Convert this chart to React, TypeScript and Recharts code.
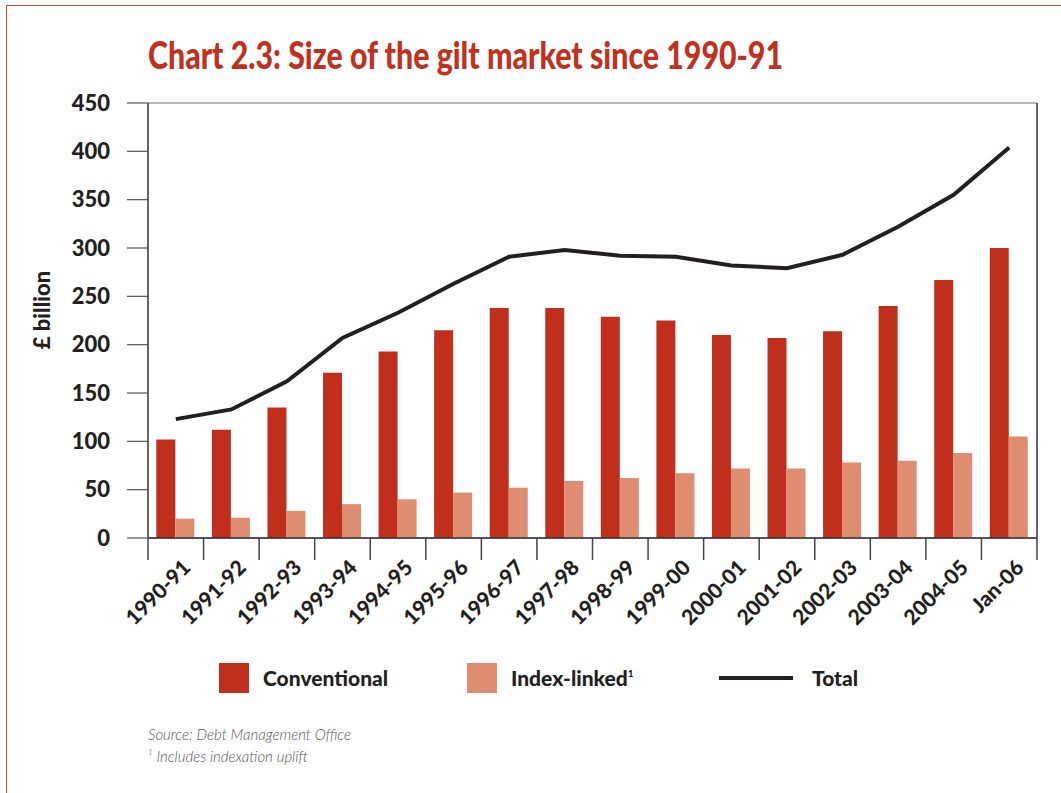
import React from 'react';
import {
  Bar,
  CartesianGrid,
  ComposedChart,
  Line,
  XAxis,
  YAxis,
} from 'recharts';

const categories = [
  '1990-91', '1991-92', '1992-93', '1993-94', '1994-95', '1995-96', '1996-97', '1997-98',
  '1998-99', '1999-00', '2000-01', '2001-02', '2002-03', '2003-04', '2004-05', 'Jan-06',
];
const conventional = [102, 112, 135, 171, 193, 215, 238, 238, 229, 225, 210, 207, 214, 240, 267, 300];
const indexLinked = [20, 21, 28, 35, 40, 47, 52, 59, 62, 67, 72, 72, 78, 80, 88, 105];
const total = [123, 133, 162, 207, 233, 263, 291, 298, 292, 291, 282, 279, 293, 322, 355, 404];
const yTicks = [0, 50, 100, 150, 200, 250, 300, 350, 400, 450];

const data = categories.map((label, i) => ({
  label,
  conventional: conventional[i],
  indexLinked: indexLinked[i],
  total: total[i],
}));

const RED = '#bf2f1c';
const SALMON = '#de8d70';
const INK = '#231f20';
const FONT = 'Lato, "Open Sans", sans-serif';

function XTick(props: any) {
  const { x, y, payload, index } = props;
  const half = payload?.offset ?? 0;
  const last = index === categories.length - 1;
  return (
    <g>
      <line x1={x - half} x2={x - half} y1={y} y2={y + 22} stroke="#444" strokeWidth={1.5} />
      {last && <line x1={x + half} x2={x + half} y1={y} y2={y + 22} stroke="#444" strokeWidth={1.5} />}
      <text
        transform={`translate(${x + 16},${y + 31}) rotate(-45)`}
        textAnchor="end"
        fontFamily={FONT}
        fontWeight={900}
        fontSize={21}
        fill={INK}
      >
        {payload.value}
      </text>
    </g>
  );
}

function ChartLegend() {
  const text: React.CSSProperties = {
    position: 'absolute',
    top: 664,
    fontFamily: FONT,
    fontWeight: 900,
    fontSize: 21,
    color: INK,
    lineHeight: '28px',
  };
  return (
    <>
      <div style={{ position: 'absolute', left: 219, top: 663, width: 30, height: 30, background: RED }} />
      <div style={{ ...text, left: 263 }}>Conventional</div>
      <div style={{ position: 'absolute', left: 467, top: 663, width: 30, height: 30, background: SALMON }} />
      <div style={{ ...text, left: 511 }}>
        Index-linked<sup style={{ fontSize: 10, verticalAlign: 'top', lineHeight: '18px' }}>1</sup>
      </div>
      <div style={{ position: 'absolute', left: 719, top: 676, width: 74, height: 4, background: INK }} />
      <div style={{ ...text, left: 812 }}>Total</div>
    </>
  );
}

export default function App() {
  return (
    <div style={{ position: 'absolute', left: 0, top: 0, width: 1061, height: 793, background: '#fff', overflow: 'hidden' }}>
      <div
        style={{
          position: 'absolute',
          left: 6,
          top: 5,
          right: -10,
          bottom: -10,
          borderLeft: '1.5px solid #d4492f',
          borderTop: '1.5px solid #d4492f',
        }}
      />
      <svg style={{ position: 'absolute', left: 0, top: 0 }} width={1061} height={90}>
        <text
          x={148}
          y={69}
          fontFamily={FONT}
          fontWeight={900}
          fontSize={37}
          fill="#c0311e"
          textLength={635}
          lengthAdjust="spacingAndGlyphs"
        >
          Chart 2.3: Size of the gilt market since 1990-91
        </text>
      </svg>
      <div
        style={{
          position: 'absolute',
          left: 41,
          top: 310,
          transform: 'translate(-50%, -50%) rotate(-90deg)',
          fontFamily: FONT,
          fontWeight: 900,
          fontSize: 22,
          color: INK,
          whiteSpace: 'nowrap',
        }}
      >
        £ billion
      </div>
      <div style={{ position: 'absolute', left: 0, top: 0 }}>
        <ComposedChart
          width={1061}
          height={793}
          data={data}
          margin={{ top: 103, right: 23, left: 28, bottom: 195 }}
          barCategoryGap="15%"
          barGap={0}
        >
          <CartesianGrid vertical={false} stroke="#6f6f6f" strokeWidth={1.2} />
          <XAxis
            dataKey="label"
            xAxisId="cat"
            height={60}
            interval={0}
            tickSize={0}
            tickMargin={0}
            tickLine={false}
            axisLine={{ stroke: '#333', strokeWidth: 1.5 }}
            tick={<XTick />}
          />
          <YAxis
            yAxisId="left"
            width={120}
            domain={[0, 450]}
            ticks={yTicks}
            interval={0}
            tickSize={21}
            tickMargin={17}
            tickLine={{ stroke: '#555', strokeWidth: 1.2 }}
            axisLine={{ stroke: '#333', strokeWidth: 1.5 }}
            tick={{ fill: INK, fontFamily: FONT, fontWeight: 900, fontSize: 22 }}
          />
          <YAxis
            yAxisId="right"
            orientation="right"
            width={1}
            domain={[0, 450]}
            ticks={yTicks}
            tick={false}
            tickLine={false}
            axisLine={{ stroke: '#333', strokeWidth: 1.5 }}
          />
          <Bar xAxisId="cat" yAxisId="left" dataKey="conventional" fill={RED} isAnimationActive={false} />
          <Bar xAxisId="cat" yAxisId="left" dataKey="indexLinked" fill={SALMON} isAnimationActive={false} />
          <Line
            xAxisId="cat"
            yAxisId="left"
            type="linear"
            dataKey="total"
            stroke={INK}
            strokeWidth={4}
            dot={false}
            isAnimationActive={false}
          />
        </ComposedChart>
      </div>
      <ChartLegend />
      <div
        style={{
          position: 'absolute',
          left: 148,
          top: 723,
          fontFamily: FONT,
          fontStyle: 'italic',
          fontWeight: 300,
          fontSize: 15,
          color: '#555',
          lineHeight: '22px',
        }}
      >
        <div>Source: Debt Management Office</div>
        <div>
          <sup style={{ fontSize: 8, verticalAlign: 'top', lineHeight: '14px' }}>1</sup> Includes indexation uplift
        </div>
      </div>
    </div>
  );
}
